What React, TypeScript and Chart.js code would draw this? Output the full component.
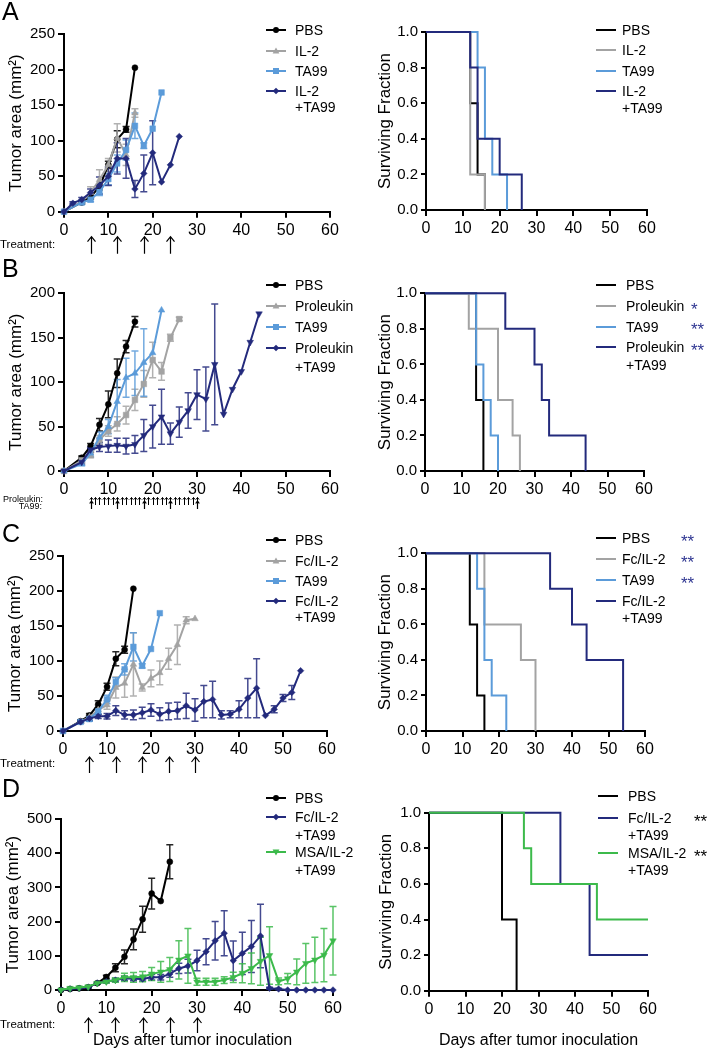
import React, { useEffect, useRef } from 'react';
import { Chart, registerables } from 'chart.js';

Chart.register(...registerables);

const FONT = '"Liberation Sans", Arial, Helvetica, sans-serif';
Chart.defaults.font.family = FONT;
Chart.defaults.color = '#000';

const C_BLACK = '#000000';
const C_GRAY = '#a3a3a3';
const C_BLUE = '#5b9bd9';
const C_NAVY = '#232a7c';
const C_GREEN = '#3cba4b';
const C_STAR = '#2e3591';

// ---------------- Panel A : tumor growth ----------------
const daysA_PBS = [0, 4, 6, 8, 10, 12, 14, 16];
const areaA_PBS = [0, 13, 21, 35, 66, 102, 116, 203];
const semA_PBS = [0, 2, 3, 4, 5, 12, 4, 0];
const daysA_IL2 = [0, 4, 6, 8, 10, 12, 14, 16];
const areaA_IL2 = [0, 14, 27, 45, 66, 104, 80, 139];
const semA_IL2 = [0, 2, 8, 14, 9, 20, 15, 6];
const daysA_TA99 = [0, 4, 6, 8, 10, 12, 14, 16, 18, 20, 22];
const areaA_TA99 = [0, 13, 17, 28, 46, 68, 87, 121, 93, 117, 168];
const semA_TA99 = [0, 2, 3, 5, 8, 12, 14, 18, 4, 0, 0];
const daysA_COMBO = [0, 2, 4, 6, 8, 10, 12, 14, 16, 18, 20, 22, 24, 26];
const areaA_COMBO = [0, 12, 17, 27, 37, 50, 75, 75, 32, 54, 83, 42, 66, 106];
const semA_COMBO = [0, 2, 3, 5, 12, 13, 22, 28, 12, 26, 45, 0, 0, 0];
const treatA = [6, 12, 18, 24];

// Panel A : survival
const kmA_PBS_t = [0, 12, 14, 16];
const kmA_PBS_s = [1, 0.6, 0.2, 0];
const kmA_IL2_t = [0, 12, 16];
const kmA_IL2_s = [1, 0.2, 0];
const kmA_TA99_t = [0, 14, 16, 18, 22];
const kmA_TA99_s = [1, 0.8, 0.4, 0.2, 0];
const kmA_COMBO_t = [0, 12, 14, 20, 26];
const kmA_COMBO_s = [1, 0.8, 0.4, 0.2, 0];

// ---------------- Panel B ----------------
const daysB_PBS = [0, 4, 6, 8, 10, 12, 14, 16];
const areaB_PBS = [0, 15, 28, 52, 75, 110, 140, 168];
const semB_PBS = [0, 2, 3, 7, 15, 16, 7, 6];
const daysB_PRO = [0, 4, 6, 8, 10, 12, 14, 16, 18, 20, 22, 24, 26];
const areaB_PRO = [0, 12, 18, 35, 45, 53, 63, 80, 98, 125, 112, 150, 171];
const semB_PRO = [0, 2, 3, 5, 6, 8, 10, 12, 15, 20, 10, 4, 2];
const daysB_TA99 = [0, 4, 6, 8, 10, 12, 14, 16, 18, 20, 22];
const areaB_TA99 = [0, 8, 20, 38, 50, 78, 105, 110, 122, 133, 181];
const semB_TA99 = [0, 2, 4, 6, 8, 25, 22, 25, 38, 0, 0];
const daysB_COMBO = [0, 4, 6, 8, 10, 12, 14, 16, 18, 20, 22, 24, 26, 28, 30, 32, 34, 36, 38, 40, 42, 44];
const areaB_COMBO = [0, 10, 24, 27, 28, 29, 28, 30, 40, 50, 61, 42, 55, 68, 86, 81, 120, 64, 92, 112, 145, 177];
const semB_COMBO = [0, 2, 3, 5, 7, 8, 9, 10, 18, 24, 31, 12, 17, 20, 28, 36, 68, 0, 0, 0, 0, 0];
const treatB_PRO = [6, 7, 8, 9, 10, 11, 12, 13, 14, 15, 16, 17, 18, 19, 20, 21, 22, 23, 24, 25, 26, 27, 28, 29, 30];
const treatB_TA99 = [6, 12, 18, 24, 30];

const kmB_PBS_t = [0, 14, 16];
const kmB_PBS_s = [1, 0.4, 0];
const kmB_PRO_t = [0, 12, 20, 24, 26];
const kmB_PRO_s = [1, 0.8, 0.4, 0.2, 0];
const kmB_TA99_t = [0, 14, 16, 18, 20];
const kmB_TA99_s = [1, 0.6, 0.4, 0.2, 0];
const kmB_COMBO_t = [0, 22, 30, 32, 34, 44];
const kmB_COMBO_s = [1, 0.8, 0.6, 0.4, 0.2, 0];

// ---------------- Panel C ----------------
const daysC_PBS = [0, 4, 6, 8, 10, 12, 14, 16];
const areaC_PBS = [0, 14, 22, 38, 63, 103, 116, 203];
const semC_PBS = [0, 2, 3, 5, 5, 10, 5, 0];
const daysC_FC = [0, 4, 6, 8, 10, 12, 14, 16, 18, 20, 22, 24, 26, 28, 30];
const areaC_FC = [0, 13, 20, 30, 37, 62, 68, 95, 62, 75, 83, 103, 123, 158, 160];
const semC_FC = [0, 2, 3, 6, 6, 15, 20, 45, 5, 12, 17, 15, 28, 5, 0];
const daysC_TA99 = [0, 4, 6, 8, 10, 12, 14, 16, 18, 20, 22];
const areaC_TA99 = [0, 13, 17, 28, 45, 70, 88, 120, 93, 117, 168];
const semC_TA99 = [0, 2, 3, 4, 6, 6, 8, 20, 3, 0, 0];
const daysC_COMBO = [0, 4, 6, 8, 10, 12, 14, 16, 18, 20, 22, 24, 26, 28, 30, 32, 34, 36, 38, 40, 42, 44, 46, 48, 50, 52, 54];
const areaC_COMBO = [0, 13, 18, 21, 21, 29, 23, 23, 26, 30, 24, 28, 29, 36, 30, 42, 45, 23, 24, 31, 47, 61, 22, 31, 47, 55, 86];
const semC_COMBO = [0, 2, 3, 3, 4, 7, 6, 7, 8, 9, 9, 12, 12, 18, 16, 23, 26, 6, 5, 12, 28, 42, 0, 5, 5, 10, 0];
const treatC = [6, 12, 18, 24, 30];

const kmC_PBS_t = [0, 12, 14, 16];
const kmC_PBS_s = [1, 0.6, 0.2, 0];
const kmC_FC_t = [0, 16, 26, 30];
const kmC_FC_s = [1, 0.6, 0.4, 0];
const kmC_TA99_t = [0, 14, 16, 18, 22];
const kmC_TA99_s = [1, 0.8, 0.4, 0.2, 0];
const kmC_COMBO_t = [0, 34, 40, 44, 54];
const kmC_COMBO_s = [1, 0.8, 0.6, 0.4, 0];

// ---------------- Panel D ----------------
const daysD_PBS = [0, 2, 4, 6, 8, 10, 12, 14, 16, 18, 20, 22, 24];
const areaD_PBS = [0, 3, 5, 8, 20, 38, 65, 97, 148, 207, 282, 260, 375];
const semD_PBS = [0, 1, 1, 2, 3, 5, 12, 20, 30, 38, 45, 0, 50];
const daysD_FC = [0, 2, 4, 6, 8, 10, 12, 14, 16, 18, 20, 22, 24, 26, 28, 30, 32, 34, 36, 38, 40, 42, 44, 46, 48, 50, 52, 54, 56, 58, 60];
const areaD_FC = [0, 3, 5, 8, 20, 25, 29, 34, 33, 32, 37, 37, 47, 63, 70, 86, 112, 144, 166, 86, 107, 127, 158, 5, 3, 0, 0, 0, 0, 0, 0];
const semD_FC = [0, 1, 1, 2, 3, 4, 5, 6, 6, 6, 8, 8, 10, 15, 20, 30, 38, 56, 66, 57, 62, 76, 93, 3, 2, 0, 0, 0, 0, 0, 0];
const daysD_MSA = [0, 2, 4, 6, 8, 10, 12, 14, 16, 18, 20, 22, 24, 26, 28, 30, 32, 34, 36, 38, 40, 42, 44, 46, 48, 50, 52, 54, 56, 58, 60];
const areaD_MSA = [0, 5, 7, 10, 20, 24, 29, 37, 37, 39, 47, 53, 60, 88, 100, 24, 24, 24, 29, 37, 49, 63, 84, 101, 25, 33, 53, 78, 88, 102, 144];
const semD_MSA = [0, 1, 1, 2, 3, 4, 6, 12, 14, 15, 19, 30, 35, 56, 80, 10, 10, 10, 10, 15, 28, 45, 70, 84, 10, 15, 38, 58, 66, 78, 100];
const treatD = [6, 12, 18, 24, 30];

const kmD_PBS_t = [0, 20, 24];
const kmD_PBS_s = [1, 0.4, 0];
const kmD_FC_t = [0, 36, 44, 60];
const kmD_FC_s = [1, 0.6, 0.2, 0.2];
const kmD_MSA_t = [0, 26, 28, 46, 60];
const kmD_MSA_s = [1, 0.8, 0.6, 0.4, 0.4];

// ---------------- plugins ----------------
const errorBarsPlugin = {
  id: 'errorBars',
  beforeDatasetsDraw(chart: any) {
    const { ctx } = chart;
    const xs = chart.scales.x;
    const ys = chart.scales.y;
    chart.data.datasets.forEach((ds: any) => {
      if (!ds.sem) return;
      ctx.save();
      ctx.strokeStyle = ds.borderColor;
      ctx.globalAlpha = 0.85;
      ctx.lineWidth = 1.5;
      ds.data.forEach((p: any, j: number) => {
        const e = ds.sem[j];
        if (!e) return;
        const x = xs.getPixelForValue(p.x);
        const y1 = ys.getPixelForValue(p.y + e);
        const y2 = ys.getPixelForValue(Math.max(0, p.y - e));
        ctx.beginPath();
        ctx.moveTo(x, y1);
        ctx.lineTo(x, y2);
        ctx.moveTo(x - 3.5, y1);
        ctx.lineTo(x + 3.5, y1);
        ctx.moveTo(x - 3.5, y2);
        ctx.lineTo(x + 3.5, y2);
        ctx.stroke();
      });
      ctx.restore();
    });
  },
};

const treatmentPlugin = {
  id: 'treatment',
  afterDraw(chart: any, _args: any, opts: any) {
    const rows = opts && opts.rows;
    if (!rows || !rows.length) return;
    const { ctx } = chart;
    const xs = chart.scales.x;
    const base = chart.chartArea.bottom;
    ctx.save();
    ctx.strokeStyle = '#000';
    for (let i = 0; i < rows.length; i++) {
      const r = rows[i];
      ctx.lineWidth = r.lw;
      for (let k = 0; k < r.days.length; k++) {
        const x = Math.round(xs.getPixelForValue(r.days[k])) + 0.5;
        const yt = base + r.top;
        const yb = base + r.bottom;
        ctx.beginPath();
        ctx.moveTo(x, yb);
        ctx.lineTo(x, yt);
        ctx.moveTo(x - r.head, yt + r.headH);
        ctx.lineTo(x, yt);
        ctx.lineTo(x + r.head, yt + r.headH);
        ctx.stroke();
      }
    }
    ctx.restore();
  },
};

Chart.register(errorBarsPlugin as any, treatmentPlugin as any);

// ---------------- helpers ----------------
type Marker = 'circle' | 'triangle' | 'rect' | 'rectRot' | 'invtri';

function pts(xs: number[], ys: number[]) {
  return xs.map((x, i) => ({ x, y: ys[i] }));
}

function growthDS(label: string, color: string, marker: Marker, days: number[], area: number[], sem: number[], idx: number) {
  const radius = marker === 'circle' ? 3 : marker === 'rect' ? 4 : marker === 'rectRot' ? 3.3 : 3.8;
  return {
    label,
    data: pts(days, area),
    sem,
    borderColor: color,
    backgroundColor: color,
    pointBackgroundColor: color,
    pointBorderColor: color,
    pointBorderWidth: 0.5,
    pointStyle: marker === 'invtri' ? 'triangle' : marker,
    pointRotation: marker === 'invtri' ? 180 : 0,
    pointRadius: radius,
    borderWidth: 2,
    tension: 0,
    clip: false as any,
    order: -idx,
  };
}

function kmDS(label: string, color: string, t: number[], s: number[], idx: number) {
  return {
    label,
    data: pts(t, s),
    borderColor: color,
    backgroundColor: color,
    borderWidth: 2,
    pointRadius: 0,
    stepped: 'before' as any,
    borderJoinStyle: 'miter' as any,
    borderCapStyle: 'butt' as any,
    clip: false as any,
    order: -idx,
  };
}

interface Box {
  left: number; top: number; width: number; height: number;
  pl: number; pt: number; pr: number; pb: number; titleCx: number;
}

const XH = 28;

function makeConfig(box: Box, datasets: any[], ymax: number, ystep: number, ytitle: string, km: boolean, rows: any[]) {
  const titleFont = 17;
  return {
    type: 'line',
    data: { datasets },
    options: {
      responsive: false,
      animation: false,
      devicePixelRatio: 1,
      layout: {
        padding: {
          left: 0,
          top: box.pt - box.top,
          right: box.left + box.width - box.pr,
          bottom: box.top + box.height - box.pb - XH,
        },
      },
      plugins: {
        legend: { display: false },
        tooltip: { enabled: false },
        treatment: { rows },
      },
      scales: {
        x: {
          type: 'linear',
          min: 0,
          max: 60,
          ticks: { stepSize: 10, font: { size: 16 }, color: '#000', padding: 3, maxRotation: 0 },
          grid: { display: true, drawOnChartArea: false, drawTicks: true, tickLength: 6, lineWidth: 2, color: '#000' },
          border: { display: true, color: '#000', width: 2 },
          afterFit: (s: any) => { s.height = XH; },
        },
        y: {
          type: 'linear',
          min: 0,
          max: ymax,
          ticks: {
            stepSize: ystep,
            font: { size: 15 },
            color: '#000',
            padding: 3,
            callback: (v: number) => (km ? Number(v).toFixed(1) : String(v)),
          },
          grid: { display: true, drawOnChartArea: false, drawTicks: true, tickLength: km ? 5 : 6, lineWidth: 2, color: '#000' },
          border: { display: true, color: '#000', width: 2 },
          title: {
            display: true,
            text: ytitle,
            font: { size: titleFont },
            color: '#000',
            padding: { top: box.titleCx - box.left - titleFont * 0.6, bottom: 0 },
          },
          afterFit: (s: any) => { s.width = box.pl - box.left; },
        },
      },
    },
  };
}

function ChartBox({ box, config }: { box: Box; config: any }) {
  const ref = useRef<HTMLCanvasElement | null>(null);
  useEffect(() => {
    if (!ref.current) return;
    const ch = new Chart(ref.current, config);
    return () => ch.destroy();
  }, []);
  return (
    <canvas
      ref={ref}
      width={box.width}
      height={box.height}
      style={{ position: 'absolute', left: box.left, top: box.top, width: box.width, height: box.height }}
    />
  );
}

function Txt({ x, y, size, children, color = '#000', align = 'left' }: any) {
  const style: any = {
    position: 'absolute',
    top: y - size / 2,
    fontSize: size,
    lineHeight: size + 'px',
    whiteSpace: 'nowrap',
    color,
    fontFamily: FONT,
  };
  if (align === 'left') style.left = x;
  else if (align === 'right') { style.left = x - 300; style.width = 300; style.textAlign = 'right'; }
  else { style.left = x - 300; style.width = 600; style.textAlign = 'center'; }
  return <div style={style}>{children}</div>;
}

function LegendMark({ x, y, w, color, marker }: any) {
  const h = 12;
  const cx = w / 2;
  const cy = h / 2;
  let shape: any = null;
  if (marker === 'circle') shape = <circle cx={cx} cy={cy} r={3} fill={color} />;
  else if (marker === 'rect') shape = <rect x={cx - 3} y={cy - 3} width={6} height={6} fill={color} />;
  else if (marker === 'triangle') shape = <polygon points={`${cx},${cy - 3.6} ${cx + 3.4},${cy + 2.4} ${cx - 3.4},${cy + 2.4}`} fill={color} />;
  else if (marker === 'invtri') shape = <polygon points={`${cx},${cy + 3.6} ${cx + 3.4},${cy - 2.4} ${cx - 3.4},${cy - 2.4}`} fill={color} />;
  else if (marker === 'rectRot') shape = <polygon points={`${cx},${cy - 3.3} ${cx + 3.3},${cy} ${cx},${cy + 3.3} ${cx - 3.3},${cy}`} fill={color} />;
  return (
    <svg width={w} height={h} style={{ position: 'absolute', left: x, top: y - cy }}>
      <line x1={0} y1={cy} x2={w} y2={cy} stroke={color} strokeWidth={2} />
      {shape}
    </svg>
  );
}

function Legend({ lineX, textX, entries, gap, starX, starColor }: any) {
  return (
    <>
      {entries.map((e: any, i: number) => (
        <React.Fragment key={i}>
          <LegendMark x={lineX} y={e.y} w={20} color={e.color} marker={e.marker} />
          {e.lines.map((l: string, k: number) => (
            <Txt key={k} x={textX} y={e.y + k * gap} size={14}>{l}</Txt>
          ))}
          {e.stars ? (
            <Txt x={starX} y={e.y + 3} size={17} color={starColor}>{e.stars}</Txt>
          ) : null}
        </React.Fragment>
      ))}
    </>
  );
}

// ---------------- geometry ----------------
const boxAL: Box = { left: 0, top: 20, width: 344, height: 236, pl: 64, pt: 34.3, pr: 330, pb: 211.7, titleCx: 16.7 };
const boxAR: Box = { left: 365, top: 20, width: 296, height: 220, pl: 426, pt: 32, pr: 647, pb: 210, titleCx: 385.5 };
const boxBL: Box = { left: 0, top: 275, width: 344, height: 237, pl: 64, pt: 293.3, pr: 330, pb: 471, titleCx: 16.7 };
const boxBR: Box = { left: 364, top: 275, width: 294, height: 230, pl: 425, pt: 293.3, pr: 644, pb: 471, titleCx: 385 };
const boxCL: Box = { left: 0, top: 535, width: 341, height: 240, pl: 63, pt: 555.7, pr: 327, pb: 731, titleCx: 15 };
const boxCR: Box = { left: 365, top: 535, width: 294, height: 230, pl: 426, pt: 553.3, pr: 645, pb: 731, titleCx: 385.5 };
const boxDL: Box = { left: 0, top: 800, width: 347, height: 250, pl: 61, pt: 819, pr: 333, pb: 990, titleCx: 13.3 };
const boxDR: Box = { left: 367, top: 795, width: 295, height: 225, pl: 429, pt: 812.7, pr: 648, pb: 990.7, titleCx: 386 };

const TUMOR = 'Tumor area (mm²)';
const SURV = 'Surviving Fraction';

const bigArrow = (days: number[], top: number, bottom: number) => ({ days, top, bottom, head: 4, headH: 5, lw: 1.2 });

const cfgAL = makeConfig(boxAL, [
  growthDS('PBS', C_BLACK, 'circle', daysA_PBS, areaA_PBS, semA_PBS, 0),
  growthDS('IL-2', C_GRAY, 'triangle', daysA_IL2, areaA_IL2, semA_IL2, 1),
  growthDS('TA99', C_BLUE, 'rect', daysA_TA99, areaA_TA99, semA_TA99, 2),
  growthDS('IL-2 +TA99', C_NAVY, 'rectRot', daysA_COMBO, areaA_COMBO, semA_COMBO, 3),
], 250, 50, TUMOR, false, [bigArrow(treatA, 25, 42)]);

const cfgAR = makeConfig(boxAR, [
  kmDS('PBS', C_BLACK, kmA_PBS_t, kmA_PBS_s, 0),
  kmDS('IL-2', C_GRAY, kmA_IL2_t, kmA_IL2_s, 1),
  kmDS('TA99', C_BLUE, kmA_TA99_t, kmA_TA99_s, 2),
  kmDS('IL-2 +TA99', C_NAVY, kmA_COMBO_t, kmA_COMBO_s, 3),
], 1, 0.2, SURV, true, []);

const cfgBL = makeConfig(boxBL, [
  growthDS('PBS', C_BLACK, 'circle', daysB_PBS, areaB_PBS, semB_PBS, 0),
  growthDS('Proleukin', C_GRAY, 'rect', daysB_PRO, areaB_PRO, semB_PRO, 1),
  growthDS('TA99', C_BLUE, 'triangle', daysB_TA99, areaB_TA99, semB_TA99, 2),
  growthDS('Proleukin +TA99', C_NAVY, 'invtri', daysB_COMBO, areaB_COMBO, semB_COMBO, 3),
], 200, 50, TUMOR, false, [
  { days: treatB_PRO, top: 26.5, bottom: 34, head: 1.6, headH: 2, lw: 1 },
  { days: treatB_TA99, top: 30, bottom: 38, head: 1.8, headH: 2.5, lw: 1.2 },
]);

const cfgBR = makeConfig(boxBR, [
  kmDS('PBS', C_BLACK, kmB_PBS_t, kmB_PBS_s, 0),
  kmDS('Proleukin', C_GRAY, kmB_PRO_t, kmB_PRO_s, 1),
  kmDS('TA99', C_BLUE, kmB_TA99_t, kmB_TA99_s, 2),
  kmDS('Proleukin +TA99', C_NAVY, kmB_COMBO_t, kmB_COMBO_s, 3),
], 1, 0.2, SURV, true, []);

const cfgCL = makeConfig(boxCL, [
  growthDS('PBS', C_BLACK, 'circle', daysC_PBS, areaC_PBS, semC_PBS, 0),
  growthDS('Fc/IL-2', C_GRAY, 'triangle', daysC_FC, areaC_FC, semC_FC, 1),
  growthDS('TA99', C_BLUE, 'rect', daysC_TA99, areaC_TA99, semC_TA99, 2),
  growthDS('Fc/IL-2 +TA99', C_NAVY, 'rectRot', daysC_COMBO, areaC_COMBO, semC_COMBO, 3),
], 250, 50, TUMOR, false, [bigArrow(treatC, 26, 42)]);

const cfgCR = makeConfig(boxCR, [
  kmDS('PBS', C_BLACK, kmC_PBS_t, kmC_PBS_s, 0),
  kmDS('Fc/IL-2', C_GRAY, kmC_FC_t, kmC_FC_s, 1),
  kmDS('TA99', C_BLUE, kmC_TA99_t, kmC_TA99_s, 2),
  kmDS('Fc/IL-2 +TA99', C_NAVY, kmC_COMBO_t, kmC_COMBO_s, 3),
], 1, 0.2, SURV, true, []);

const cfgDL = makeConfig(boxDL, [
  growthDS('PBS', C_BLACK, 'circle', daysD_PBS, areaD_PBS, semD_PBS, 0),
  growthDS('Fc/IL-2 +TA99', C_NAVY, 'rectRot', daysD_FC, areaD_FC, semD_FC, 1),
  growthDS('MSA/IL-2 +TA99', C_GREEN, 'invtri', daysD_MSA, areaD_MSA, semD_MSA, 2),
], 500, 100, TUMOR, false, [bigArrow(treatD, 28, 43)]);

const cfgDR = makeConfig(boxDR, [
  kmDS('PBS', C_BLACK, kmD_PBS_t, kmD_PBS_s, 0),
  kmDS('Fc/IL-2 +TA99', C_NAVY, kmD_FC_t, kmD_FC_s, 1),
  kmDS('MSA/IL-2 +TA99', C_GREEN, kmD_MSA_t, kmD_MSA_s, 2),
], 1, 0.2, SURV, true, []);

export default function App() {
  return (
    <div style={{ position: 'absolute', left: 0, top: 0, width: 722, height: 1050, background: '#fff', overflow: 'hidden', fontFamily: FONT }}>
      <ChartBox box={boxAL} config={cfgAL} />
      <ChartBox box={boxAR} config={cfgAR} />
      <ChartBox box={boxBL} config={cfgBL} />
      <ChartBox box={boxBR} config={cfgBR} />
      <ChartBox box={boxCL} config={cfgCL} />
      <ChartBox box={boxCR} config={cfgCR} />
      <ChartBox box={boxDL} config={cfgDL} />
      <ChartBox box={boxDR} config={cfgDR} />

      <Txt x={2} y={11} size={25}>A</Txt>
      <Txt x={2} y={268.5} size={25}>B</Txt>
      <Txt x={2} y={533.5} size={25}>C</Txt>
      <Txt x={2} y={788.5} size={25}>D</Txt>

      <Txt x={0} y={245} size={11.5}>Treatment:</Txt>
      <Txt x={43} y={499} size={9} align="right">Proleukin:</Txt>
      <Txt x={42} y={506} size={9} align="right">TA99:</Txt>
      <Txt x={0} y={764} size={11.5}>Treatment:</Txt>
      <Txt x={0} y={1025} size={11.5}>Treatment:</Txt>

      <Txt x={192.5} y={1040} size={16} align="center">Days after tumor inoculation</Txt>
      <Txt x={538.5} y={1040} size={16} align="center">Days after tumor inoculation</Txt>

      <Legend lineX={266} textX={295} gap={16.6} entries={[
        { lines: ['PBS'], y: 30, color: C_BLACK, marker: 'circle' },
        { lines: ['IL-2'], y: 50.7, color: C_GRAY, marker: 'triangle' },
        { lines: ['TA99'], y: 71, color: C_BLUE, marker: 'rect' },
        { lines: ['IL-2', '+TA99'], y: 90.7, color: C_NAVY, marker: 'rectRot' },
      ]} />
      <Legend lineX={596} textX={622} gap={17.6} entries={[
        { lines: ['PBS'], y: 30, color: C_BLACK },
        { lines: ['IL-2'], y: 50, color: C_GRAY },
        { lines: ['TA99'], y: 70.7, color: C_BLUE },
        { lines: ['IL-2', '+TA99'], y: 90.7, color: C_NAVY },
      ]} />

      <Legend lineX={266} textX={295} gap={18.4} entries={[
        { lines: ['PBS'], y: 285, color: C_BLACK, marker: 'circle' },
        { lines: ['Proleukin'], y: 306, color: C_GRAY, marker: 'triangle' },
        { lines: ['TA99'], y: 326.7, color: C_BLUE, marker: 'rect' },
        { lines: ['Proleukin', '+TA99'], y: 348.3, color: C_NAVY, marker: 'rectRot' },
      ]} />
      <Legend lineX={596} textX={626} gap={17.7} starX={691} starColor={C_STAR} entries={[
        { lines: ['PBS'], y: 285, color: C_BLACK },
        { lines: ['Proleukin'], y: 306, color: C_GRAY, stars: '*' },
        { lines: ['TA99'], y: 326.5, color: C_BLUE, stars: '**' },
        { lines: ['Proleukin', '+TA99'], y: 347.3, color: C_NAVY, stars: '**' },
      ]} />

      <Legend lineX={266} textX={295} gap={16.6} entries={[
        { lines: ['PBS'], y: 540, color: C_BLACK, marker: 'circle' },
        { lines: ['Fc/IL-2'], y: 560.7, color: C_GRAY, marker: 'triangle' },
        { lines: ['TA99'], y: 581, color: C_BLUE, marker: 'rect' },
        { lines: ['Fc/IL-2', '+TA99'], y: 600.7, color: C_NAVY, marker: 'rectRot' },
      ]} />
      <Legend lineX={596} textX={622} gap={17.6} starX={681} starColor={C_STAR} entries={[
        { lines: ['PBS'], y: 538.3, color: C_BLACK, stars: '**' },
        { lines: ['Fc/IL-2'], y: 559.3, color: C_GRAY, stars: '**' },
        { lines: ['TA99'], y: 580, color: C_BLUE, stars: '**' },
        { lines: ['Fc/IL-2', '+TA99'], y: 600.7, color: C_NAVY },
      ]} />

      <Legend lineX={266} textX={295} gap={18.3} entries={[
        { lines: ['PBS'], y: 798.3, color: C_BLACK, marker: 'circle' },
        { lines: ['Fc/IL-2', '+TA99'], y: 816.7, color: C_NAVY, marker: 'rectRot' },
        { lines: ['MSA/IL-2', '+TA99'], y: 851.7, color: C_GREEN, marker: 'invtri' },
      ]} />
      <Legend lineX={598} textX={628} gap={17} starX={694} starColor={C_BLACK} entries={[
        { lines: ['PBS'], y: 796, color: C_BLACK },
        { lines: ['Fc/IL-2', '+TA99'], y: 818.3, color: C_NAVY, stars: '**' },
        { lines: ['MSA/IL-2', '+TA99'], y: 853.3, color: C_GREEN, stars: '**' },
      ]} />
    </div>
  );
}
